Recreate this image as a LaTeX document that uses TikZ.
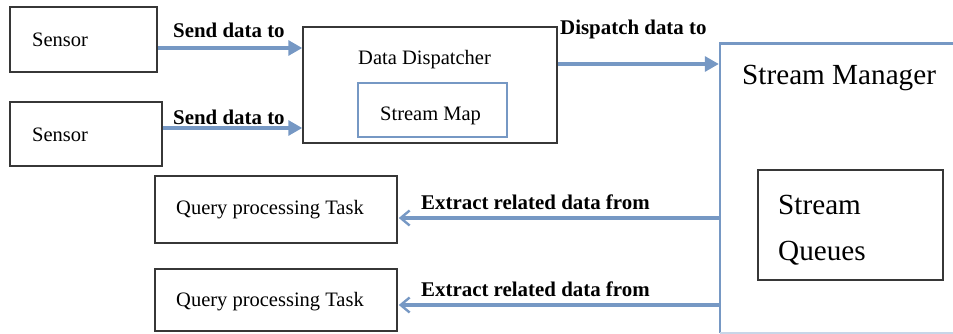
\documentclass[tikz,border=0pt]{standalone}
\usepackage{fontspec}
\setmainfont{Liberation Serif}
\usetikzlibrary{arrows.meta}
\definecolor{lnblue}{RGB}{118,152,196}
\definecolor{faintblue}{RGB}{200,214,232}
\definecolor{boxgray}{RGB}{55,55,55}
\tikzset{
  box/.style={draw=boxgray, line width=1.5pt, rectangle, inner sep=0pt},
  bluebox/.style={draw=lnblue, line width=2.6pt, rectangle, inner sep=0pt},
  txt/.style={anchor=west, inner sep=0pt, font=\fontsize{20.5}{23}\selectfont},
  bigtxt/.style={anchor=west, inner sep=0pt, font=\fontsize{29.2}{32}\selectfont},
  lbl/.style={anchor=west, inner sep=0pt, font=\fontsize{20.9}{23}\selectfont\bfseries},
  fwd/.style={draw=lnblue, line width=3.2pt, -{Triangle[length=14pt,width=15pt]}},
  back/.style={draw=lnblue, line width=3.2pt, -{Straight Barb[length=9pt,width=15pt,line width=2.4pt]}}
}
\begin{document}
\begin{tikzpicture}[x=1pt,y=-1pt]
\useasboundingbox (0,0) rectangle (953,334);
% boxes
\node[box, minimum width=147pt, minimum height=65pt] (s1) at (83.5,39.5) {};
\node[box, minimum width=152pt, minimum height=64pt] (s2) at (86,134) {};
\node[box, minimum width=254pt, minimum height=116pt] (dd) at (430,85) {};
\node[bluebox, minimum width=149pt, minimum height=54pt] (map) at (432.5,110) {};
\node[draw=none, minimum width=280pt, minimum height=289pt, inner sep=0pt] (sm) at (860,188.5) {};
\draw[lnblue, line width=2.6pt] (sm.south west) -- (sm.north west) -- (sm.north east);
\draw[faintblue, line width=1.5pt] (sm.south west) -- (sm.south east);
\node[box, minimum width=185pt, minimum height=110pt] (sq) at (850.5,225) {};
\node[box, minimum width=242pt, minimum height=67pt] (q1) at (276,209.5) {};
\node[box, minimum width=242pt, minimum height=62pt] (q2) at (276,300) {};
% texts
\node[txt] (t1) at (32,40) {Sensor};
\node[txt] (t2) at (32,135) {Sensor};
\node[txt] (tdd) at (358,60) {Data Dispatcher};
\node[txt] (tmap) at (380,116) {Stream Map};
\node[bigtxt] (tsm) at (742,78) {Stream Manager};
\node[bigtxt] (tsq1) at (778,205) {Stream};
\node[bigtxt] (tsq2) at (778,253) {Queues};
\node[txt] (tq1) at (176,210) {Query processing Task};
\node[txt] (tq2) at (176,302) {Query processing Task};
% connectors
\draw[fwd] (s1.east |- 0,48) -- (dd.west |- 0,48);
\draw[fwd] (s2.east |- 0,128) -- (dd.west |- 0,128);
\draw[fwd] (dd.east |- 0,64) -- ([xshift=-1pt]sm.west |- 0,64);
\draw[back] (sm.west |- 0,218) -- ([xshift=1pt]q1.east |- 0,218);
\draw[back] (sm.west |- 0,305) -- ([xshift=1pt]q2.east |- 0,305);
% labels
\node[lbl] (l1) at (173,30) {Send data to};
\node[lbl] (l2) at (173,117) {Send data to};
\node[lbl] (l3) at (560,29) {Dispatch data to};
\node[lbl] (l4) at (421,202) {Extract related data from};
\node[lbl] (l5) at (421,289) {Extract related data from};
\end{tikzpicture}
\end{document}
